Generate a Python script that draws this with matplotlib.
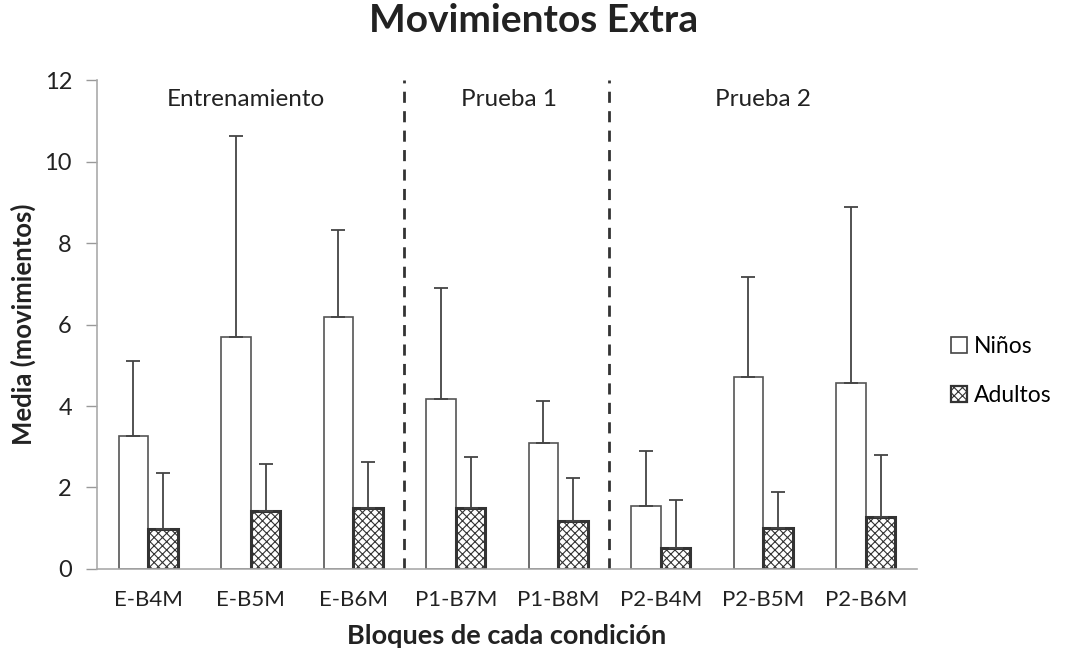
import matplotlib
matplotlib.use("Agg")
import matplotlib.pyplot as plt
import numpy as np
from matplotlib.patches import Patch

plt.rcParams['font.family'] = ['Lato', 'DejaVu Sans']
plt.rcParams['hatch.color'] = '#333333'
plt.rcParams['hatch.linewidth'] = 0.8

categories = ["E-B4M", "E-B5M", "E-B6M", "P1-B7M", "P1-B8M", "P2-B4M", "P2-B5M", "P2-B6M"]
ninos_mean = [3.26, 5.69, 6.18, 4.17, 3.09, 1.55, 4.71, 4.56]
ninos_sd = [1.84, 4.94, 2.14, 2.73, 1.03, 1.35, 2.46, 4.32]
adultos_mean = [0.98, 1.42, 1.50, 1.50, 1.18, 0.52, 1.01, 1.28]
adultos_sd = [1.38, 1.16, 1.13, 1.25, 1.05, 1.17, 0.88, 1.52]
y_ticks = [0, 2, 4, 6, 8, 10, 12]
sections = ["Entrenamiento", "Prueba 1", "Prueba 2"]
section_centers = [0.95, 3.52, 6.0]
section_breaks = [2.5, 4.5]

fig = plt.figure(figsize=(10.67, 6.57), dpi=100)
ax = fig.add_axes([0.0909, 0.134, 0.7685, 0.744])

x = np.arange(len(categories))
w = 0.29
off = 0.145

ax.bar(x - off, ninos_mean, w, color='white', edgecolor='#555555', linewidth=1.2,
       yerr=[np.zeros(len(x)), ninos_sd],
       error_kw=dict(ecolor='#444444', elinewidth=1.3, capsize=5, capthick=1.3), zorder=2)
ax.bar(x + off, adultos_mean, w, color='white', edgecolor='#333333', linewidth=2.2,
       hatch='xxxx',
       yerr=[np.zeros(len(x)), adultos_sd],
       error_kw=dict(ecolor='#444444', elinewidth=1.3, capsize=5, capthick=1.3), zorder=2)

for b in section_breaks:
    ax.axvline(b, color='#333333', linestyle=(0, (4, 3)), linewidth=2, zorder=1)

for name, cx in zip(sections, section_centers):
    ax.text(cx, 11.78, name, ha='center', va='top', fontsize=17.5, color='#222222')

ax.set_xlim(-0.5, len(categories) - 0.5)
ax.set_ylim(0, 12)
ax.set_yticks(y_ticks)
ax.set_yticklabels([str(t) for t in y_ticks], fontsize=17, color='#222222')
ax.set_xticks(x)
ax.set_xticklabels(categories, fontsize=16, color='#222222')
ax.tick_params(axis='x', length=0, pad=15)
ax.tick_params(axis='y', length=8, width=1, color='#999999', pad=10)

for s in ['top', 'right']:
    ax.spines[s].set_visible(False)
for s in ['left', 'bottom']:
    ax.spines[s].set_color('#aaaaaa')
    ax.spines[s].set_linewidth(1.2)

ax.set_ylabel("Media (movimientos)", fontsize=18.5, fontweight='bold', color='#222222', labelpad=6)
ax.set_xlabel("Bloques de cada condición", fontsize=19.5, fontweight='bold', color='#222222', labelpad=10)
fig.suptitle("Movimientos Extra", fontsize=28, fontweight='bold', color='#222222', y=0.995)

handles = [Patch(facecolor='white', edgecolor='#444444', linewidth=1.2, label='Niños'),
           Patch(facecolor='white', edgecolor='#333333', linewidth=1.6, hatch='xxxx', label='Adultos')]
fig.legend(handles=handles, loc='center left', bbox_to_anchor=(0.872, 0.435), frameon=False,
           fontsize=16.5, handlelength=0.7, handleheight=0.7, handletextpad=0.3, labelspacing=1.2)

fig.savefig("out.png", dpi=100)
